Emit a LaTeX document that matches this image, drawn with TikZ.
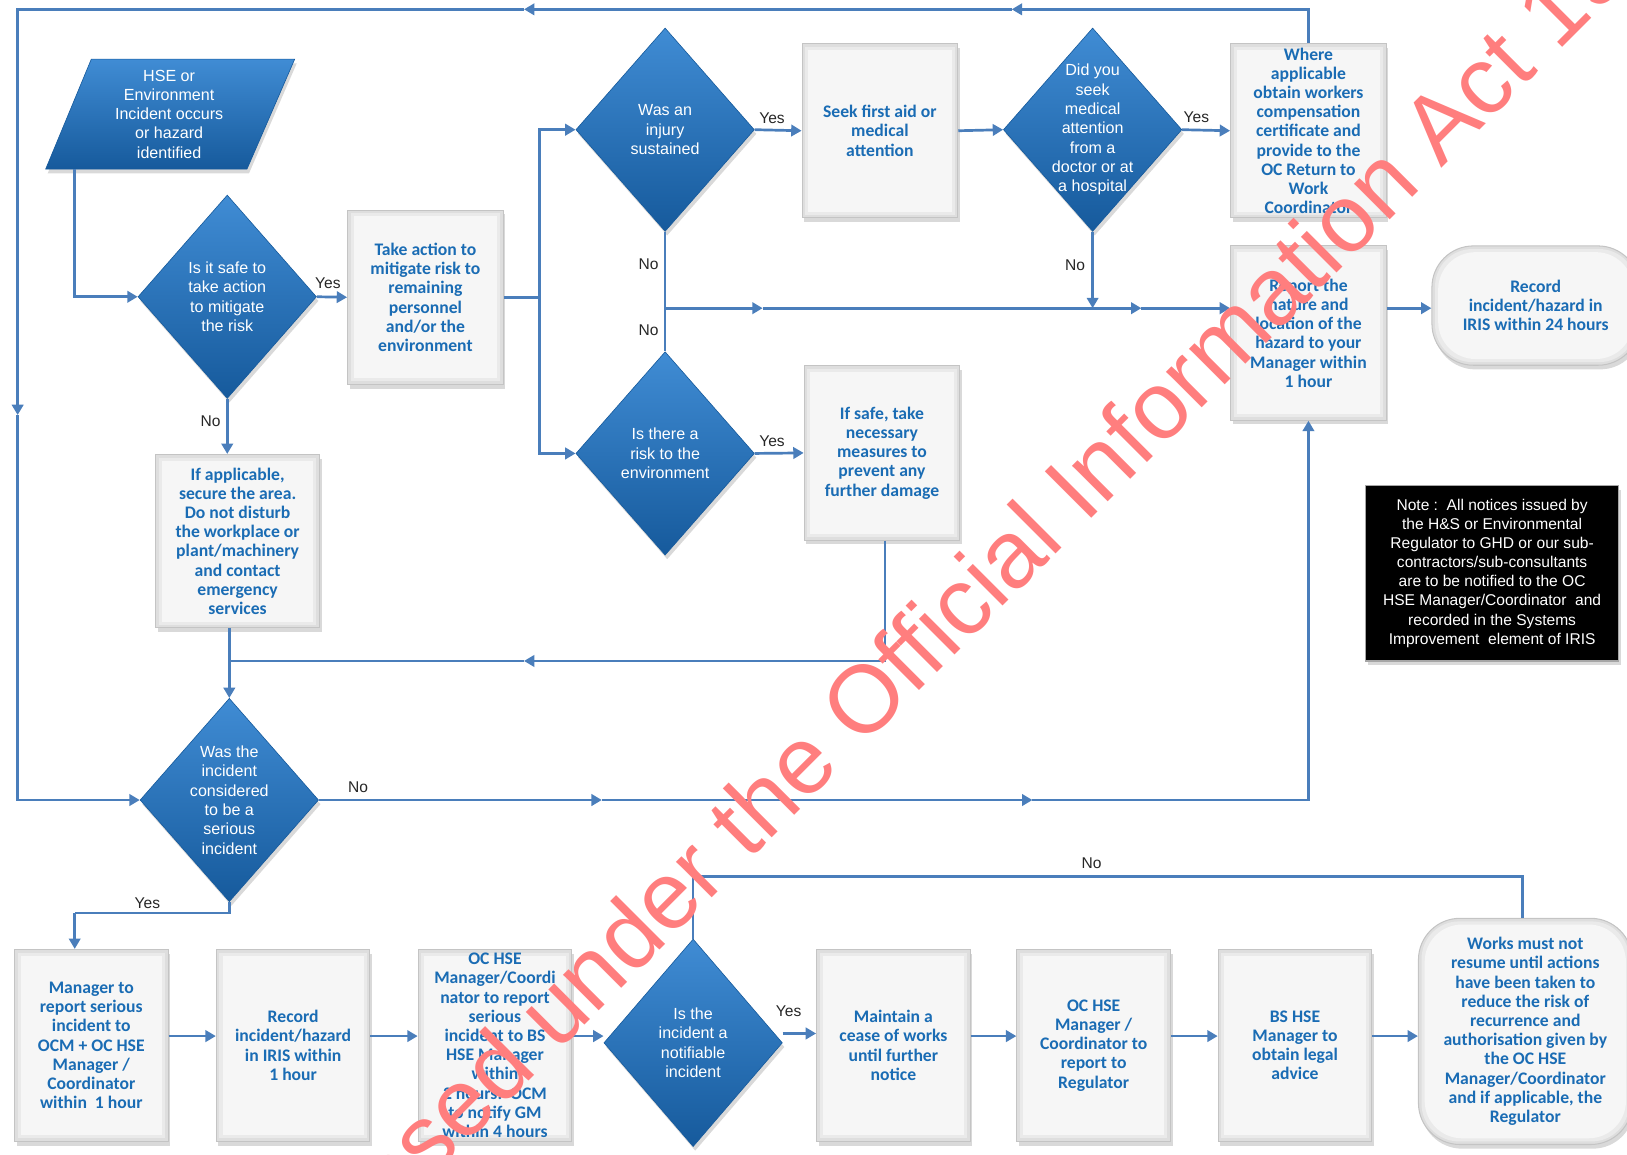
\documentclass[tikz,border=0pt]{standalone}
\usepackage{fontspec}
\setmainfont{Liberation Sans}
\newfontfamily\boxfont{Carlito}
\usetikzlibrary{arrows.meta,shapes.geometric,shadows,calc}

% palette
\definecolor{conn}{RGB}{74,126,187}
\definecolor{boxtext}{RGB}{26,108,180}
\definecolor{bevelout}{RGB}{222,222,222}
\definecolor{bevelmid}{RGB}{234,234,234}
\definecolor{boxfill}{RGB}{246,246,246}
\definecolor{boxedge}{RGB}{196,196,196}
\definecolor{diatop}{RGB}{64,140,212}
\definecolor{diabot}{RGB}{22,90,156}
\definecolor{labelgray}{RGB}{38,38,38}
\definecolor{stamp}{RGB}{255,126,126}

\tikzset{
  link/.style={draw=conn, line width=2.6pt},
  flow/.style={link, -{Triangle[length=10pt,width=11pt]}},
  softshadow/.style={drop shadow={shadow xshift=2pt, shadow yshift=-4pt, opacity=0.3}},
  bevel/.style={path picture={
      \fill[bevelmid, rounded corners=#1]
        ([xshift=3pt,yshift=-3pt]path picture bounding box.north west) rectangle
        ([xshift=-3pt,yshift=3pt]path picture bounding box.south east);
      \fill[boxfill, rounded corners=#1]
        ([xshift=6pt,yshift=-6pt]path picture bounding box.north west) rectangle
        ([xshift=-6pt,yshift=6pt]path picture bounding box.south east);}},
  stepbox/.style={rectangle, fill=bevelout, draw=boxedge, line width=1pt, bevel=0pt,
    minimum width=150pt, minimum height=168pt, inner sep=0pt, align=center,
    text=boxtext, font=\boxfont\bfseries\fontsize{17}{18.5}\selectfont, softshadow},
  lowbox/.style={stepbox, minimum width=148pt, minimum height=185pt},
  endbox/.style={stepbox, rounded corners=40pt, bevel=36pt},
  decide/.style={diamond, minimum width=172pt, minimum height=196pt, inner sep=0pt,
    top color=diatop, bottom color=diabot, draw=diabot, line width=0.6pt, softshadow},
  decidetext/.style={text=white, align=center, inner sep=0pt,
    font=\fontsize{15.5}{18.6}\selectfont},
  answer/.style={text=labelgray, inner sep=0pt, font=\fontsize{15}{18}\selectfont},
  notebox/.style={rectangle, fill=black, draw=gray!70, line width=1.2pt, text=white,
    align=center, inner sep=0pt, minimum width=244pt, minimum height=169pt,
    font=\fontsize{15}{18.4}\selectfont, softshadow},
  stampfont/.style={text=stamp, inner sep=0pt, font=\fontsize{92}{92}\selectfont},
}

\begin{document}
\begin{tikzpicture}[x=1pt,y=-1pt]
\useasboundingbox (0,0) rectangle (1568,1113);
\clip (0,0) rectangle (1568,1113);

% ---------- start: parallelogram ----------
\path[top color=diatop, bottom color=diabot, draw=diabot, line width=0.6pt, softshadow]
  (88,57) -- (284,57) -- (238,163) -- (44,163) -- cycle;
\node[decidetext] (start) at (163,110) {HSE or\\Environment\\Incident occurs\\or hazard\\identified};
\coordinate (startout) at (72,163);

% ---------- decisions ----------
\node[decide] (d1) at (219,286) {};
\node[decidetext] (d1t) at (d1) {Is it safe to\\take action\\to mitigate\\the risk};
\node[decide] (d2) at (641,125) {};
\node[decidetext] (d2t) at (d2) {Was an\\injury\\sustained};
\node[decide] (d3) at (1053,125) {};
\node[decidetext] (d3t) at (d3) {Did you\\seek\\medical\\attention\\from a\\doctor or at\\a hospital};
\node[decide] (d4) at (641,437) {};
\node[decidetext] (d4t) at (d4) {Is there a\\risk to the\\environment};
\node[decide] (d5) at (221,771) {};
\node[decidetext] (d5t) at (d5) {Was the\\incident\\considered\\to be a\\serious\\incident};
\node[decide, minimum height=200pt] (d6) at (668,1005) {};
\node[decidetext] (d6t) at (d6) {Is the\\incident a\\notifiable\\incident};

% ---------- process boxes ----------
\node[stepbox] (take) at (410,286.5) {Take action to\\mitigate risk to\\remaining\\personnel\\and/or the\\environment};
\node[stepbox] (seek) at (848,126) {Seek first aid or\\medical\\attention};
\node[stepbox] (where) at (1261,126) {Where\\applicable\\obtain workers\\compensation\\certificate and\\provide to the\\OC Return to\\Work\\Coordinator};
\node[stepbox] (report) at (1261,321) {Report the\\nature and\\location of the\\hazard to your\\Manager within\\1 hour};
\node[endbox, minimum width=200pt, minimum height=115pt] (rec24) at (1480,294.5) {Record\\incident/hazard in\\IRIS within 24 hours};
\node[stepbox] (safe2) at (850,436.5) {If safe, take\\necessary\\measures to\\prevent any\\further damage};
\node[stepbox, minimum width=158pt, minimum height=167pt] (applic) at (229,521.5) {If applicable,\\secure the area.\\Do not disturb\\the workplace or\\plant/machinery\\and contact\\emergency\\services};

\node[notebox] (note) at (1438,552.5) {Note :\ \ All notices issued by\\the H\&S or Environmental\\Regulator to GHD or our sub-\\contractors/sub-consultants\\are to be notified to the OC\\HSE Manager/Coordinator\ \ and\\recorded in the Systems\\Improvement\ \ element of IRIS};

% ---------- bottom row ----------
\node[lowbox] (mgr) at (88,1007.5) {Manager to\\report serious\\incident to\\OCM + OC HSE\\Manager /\\Coordinator\\within\ \ 1 hour};
\node[lowbox] (rec1) at (282.5,1007.5) {Record\\incident/hazard\\in IRIS within\\1 hour};
\node[lowbox] (bsrep) at (477,1007.5) {OC HSE\\Manager/Coordi\\nator to report\\serious\\incident to BS\\HSE Manager\\within\\2 hours.\ \ OCM\\to notify GM\\within 4 hours};
\node[lowbox] (cease) at (861,1007.5) {Maintain a\\cease of works\\until further\\notice};
\node[lowbox] (regul) at (1054,1007.5) {OC HSE\\Manager /\\Coordinator to\\report to\\Regulator};
\node[lowbox] (legal) at (1248,1007.5) {BS HSE\\Manager to\\obtain legal\\advice};
\node[endbox, minimum width=206pt, minimum height=218pt] (resume) at (1470,994) {Works must not\\resume until actions\\have been taken to\\reduce the risk of\\recurrence and\\authorisation given by\\the OC HSE\\Manager/Coordinator\\and if applicable, the\\Regulator};

% ---------- waypoints ----------
\coordinate (ta) at (975,9);
\coordinate (tb) at (505,9);
\coordinate (lc) at (17,400);
\coordinate (j1) at (520,286.5);
\coordinate (jm) at (641,297);
\coordinate (ma) at (735,297);
\coordinate (mb) at (1100,297);
\coordinate (mc) at (505,637);
\coordinate (jl) at (222,637);
\coordinate (na) at (580,771);
\coordinate (nb) at (995,771);
\coordinate (ya) at (72,880);

% ---------- connectors ----------
% return loop along the top and left edge
\draw[flow] (where.north) |- (ta);
\draw[flow] (ta) -- (tb);
\draw[flow] (tb) -| (lc);
\draw[flow] (lc) |- (d5.west);

\draw[flow] (startout) |- (d1.west);
\draw[flow] (d1.east) -- (take.west);
\draw[link] (take.east) -- (j1);
\draw[flow] (j1) |- (d2.west);
\draw[flow] (j1) |- (d4.west);
\draw[flow] (d2.east) -- (seek.west);
\draw[flow] (seek.east) -- (d3.west);
\draw[flow] (d3.east) -- (where.west);
\draw[flow] (d3.south) -- (d3.south |- jm);
\draw[link] (d2.south) -- (d4.north);
\draw[flow] (jm) -- (ma);
\draw[flow] (ma) -- (mb);
\draw[flow] (mb) -- (mb -| report.west);
\draw[flow] (report.east |- jm) -- (rec24.west |- jm);
\draw[flow] (d4.east) -- (safe2.west);
\draw[flow] (d1.south) -- (d1.south |- applic.north);
\draw[flow] ([xshift=3pt]safe2.south) |- (mc);
\draw[link] (mc) -- (jl);
\draw[flow] (applic.south -| d5.north) -- (d5.north);

% serious incident: no branch
\draw[flow] (d5.east) -- (na);
\draw[flow] (na) -- (nb);
\draw[flow] (nb) -| (report.south);

% serious incident: yes branch
\draw[link] (d5.south) |- (ya);
\draw[flow] (ya) -- (ya |- mgr.north);
\draw[flow] ([yshift=9pt]mgr.east) -- ([yshift=9pt]rec1.west);
\draw[flow] ([yshift=9pt]rec1.east) -- ([yshift=9pt]bsrep.west);
\draw[flow] ([yshift=9pt]bsrep.east) -- ([yshift=9pt]bsrep.east -| d6.west);
\draw[flow] ([yshift=9pt]d6.east) -- ([yshift=9pt]d6.east -| cease.west);
\draw[flow] ([yshift=9pt]cease.east) -- ([yshift=9pt]regul.west);
\draw[flow] ([yshift=9pt]regul.east) -- ([yshift=9pt]legal.west);
\draw[flow] ([yshift=9pt]legal.east) -- ([yshift=9pt]legal.east -| resume.west);
\draw[link] (d6.north) -- ++(0,-60) -| ([xshift=-3pt]resume.north);

% ---------- branch labels ----------
\node[answer] (y1) at (316,273) {Yes};
\node[answer] (y2) at (744,114) {Yes};
\node[answer] (y3) at (1153,113) {Yes};
\node[answer] (y4) at (744,425) {Yes};
\node[answer] (y5) at (142,870) {Yes};
\node[answer] (y6) at (760,975) {Yes};
\node[answer] (n1) at (203,406) {No};
\node[answer] (n2) at (625,255) {No};
\node[answer] (n3) at (625,318) {No};
\node[answer] (n4) at (1036,256) {No};
\node[answer] (n5) at (345,759) {No};
\node[answer] (n6) at (1052,832) {No};

% ---------- release stamp ----------
\node[stampfont, rotate=45] (stamp) at (922,583) {Released under the Official Information Act 1982};
\end{tikzpicture}
\end{document}
